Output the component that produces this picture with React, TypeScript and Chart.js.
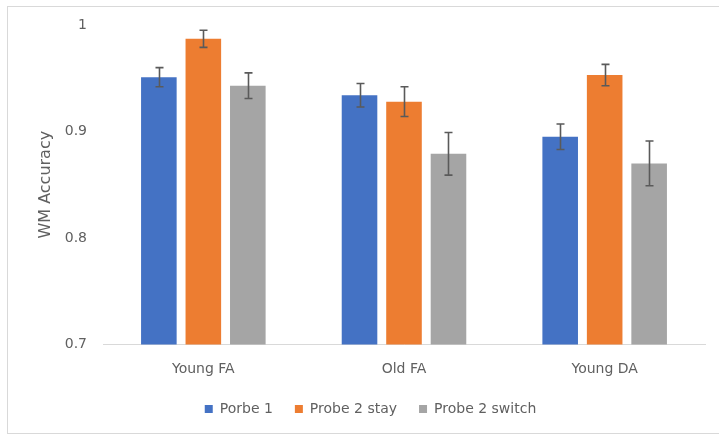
import React, { useEffect, useRef } from "react";
import { Chart, registerables } from "chart.js";

Chart.register(...registerables);

// Groups on the category axis
const groups = ["Young FA", "Old FA", "Young DA"];

// Series labels (as they appear in the legend)
const seriesNames = ["Porbe 1", "Probe 2 stay", "Probe 2 switch"];

// Mean WM accuracy per group
const probe1 = [0.951, 0.934, 0.895];
const probe2Stay = [0.987, 0.928, 0.953];
const probe2Switch = [0.943, 0.879, 0.87];

// Error bar half-lengths per group
const probe1Err = [0.009, 0.011, 0.012];
const probe2StayErr = [0.008, 0.014, 0.01];
const probe2SwitchErr = [0.012, 0.02, 0.021];

// Value axis range and step
const yMin = 0.7;
const yMax = 1.0;
const yStep = 0.1;

const seriesColors = ["#4472C4", "#ED7D31", "#A5A5A5"];
const textColor = "#606060";
const fontFamily = "'DejaVu Sans', sans-serif";

// Draws symmetric error bars with caps over each bar
const errorBarsPlugin = {
  id: "errorBars",
  afterDatasetsDraw(chart: any) {
    const { ctx } = chart;
    const y = chart.scales.y;
    ctx.save();
    ctx.strokeStyle = "#5a5a5a";
    ctx.lineWidth = 1.6;
    chart.data.datasets.forEach((ds: any, i: number) => {
      const meta = chart.getDatasetMeta(i);
      if (meta.hidden) return;
      meta.data.forEach((bar: any, j: number) => {
        const v = ds.data[j];
        const e = ds.errors[j];
        const top = y.getPixelForValue(v + e);
        const bot = y.getPixelForValue(v - e);
        const x = Math.round(bar.x) + 0.5;
        const cap = 4;
        ctx.beginPath();
        ctx.moveTo(x, top);
        ctx.lineTo(x, bot);
        ctx.moveTo(x - cap, top);
        ctx.lineTo(x + cap, top);
        ctx.moveTo(x - cap, bot);
        ctx.lineTo(x + cap, bot);
        ctx.stroke();
      });
    });
    ctx.restore();
  },
};

export default function App() {
  const canvasRef = useRef<HTMLCanvasElement | null>(null);

  useEffect(() => {
    if (!canvasRef.current) return;
    const values = [probe1, probe2Stay, probe2Switch];
    const errs = [probe1Err, probe2StayErr, probe2SwitchErr];
    const chart = new Chart(canvasRef.current, {
      type: "bar",
      data: {
        labels: groups,
        datasets: seriesNames.map((name, i) => ({
          label: name,
          data: values[i],
          errors: errs[i],
          backgroundColor: seriesColors[i],
          borderWidth: 0,
          categoryPercentage: 0.665,
          barPercentage: 0.8,
        })) as any,
      },
      options: {
        animation: false,
        responsive: false,
        maintainAspectRatio: false,
        layout: { padding: { left: 36, right: 14, top: 25, bottom: 8 } },
        plugins: {
          tooltip: { enabled: false },
          legend: {
            position: "bottom",
            labels: {
              boxWidth: 8,
              boxHeight: 8,
              padding: 22,
              color: textColor,
              font: { family: fontFamily, size: 14 },
            },
          },
        },
        scales: {
          x: {
            grid: { display: false },
            border: { display: true, color: "#d9d9d9", width: 1 },
            afterFit(scale: any) {
              scale.height = 35.6;
            },
            ticks: {
              color: textColor,
              padding: 9,
              font: { family: fontFamily, size: 14 },
            },
          },
          y: {
            min: yMin,
            max: yMax,
            grid: { display: false },
            border: { display: false },
            afterFit(scale: any) {
              scale.width = 67;
            },
            ticks: {
              stepSize: yStep,
              color: textColor,
              padding: 8,
              font: { family: fontFamily, size: 14 },
              callback: (v: any) => String(Math.round(Number(v) * 10) / 10),
            },
            title: {
              display: true,
              text: "WM Accuracy",
              color: textColor,
              padding: 0,
              font: { family: fontFamily, size: 16 },
            },
          },
        },
      },
      plugins: [errorBarsPlugin],
    });
    return () => chart.destroy();
  }, []);

  return (
    <div
      style={{
        position: "fixed",
        left: 0,
        top: 0,
        width: 719,
        height: 434,
        background: "#ffffff",
        overflow: "hidden",
      }}
    >
      <div
        style={{
          position: "absolute",
          left: 7,
          top: 6,
          width: 740,
          height: 426,
          border: "1px solid #d9d9d9",
        }}
      />
      <canvas
        ref={canvasRef}
        width={719}
        height={434}
        style={{ position: "absolute", left: 0, top: 0 }}
      />
    </div>
  );
}
